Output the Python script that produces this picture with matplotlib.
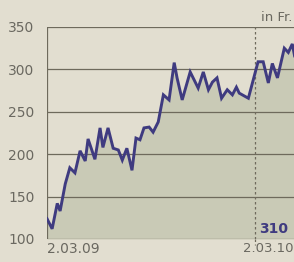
import matplotlib.pyplot as plt
import numpy as np

# Share price in Fr., weekly, from 2.03.09 (x in days since 2.03.09)
days = [0, 9, 18, 23, 32, 40, 49, 58, 67, 72, 84, 93, 98, 107, 116, 125,
        132, 140, 149, 156, 163, 170, 179, 186, 195, 204, 214, 223, 228,
        237, 251, 265, 274, 283, 290, 298, 306, 316, 325, 332, 337, 353,
        370, 379, 388, 395, 404, 416, 423, 430, 434]
prices = [124, 112, 142, 133, 165, 184, 178, 204, 192, 218, 194, 231, 208,
          231, 207, 205, 193, 207, 181, 219, 217, 231, 232, 226, 238, 270,
          264, 308, 290, 264, 297, 278, 297, 276, 285, 290, 266, 276, 270,
          279, 272, 266, 309, 309, 284, 307, 290, 325, 320, 330, 316]
yticks = [100, 150, 200, 250, 300, 350]
last_label = "310"

bg = "#e2ded0"
fill_c = "#c9cab6"
line_c = "#3f3b80"
grid_c = "#6e6a5c"
text_c = "#6a6860"

fig = plt.figure(figsize=(2.94, 2.62), dpi=100, facecolor=bg)
ax = fig.add_axes([47/294, 23/262, 1 - 47/294, 212/262])
ax.set_facecolor(bg)

ax.fill_between(days, prices, 100, color=fill_c, lw=0, zorder=1)
ax.plot(days, prices, color=line_c, lw=2.1, solid_joinstyle="miter", zorder=3)

for y in yticks:
    ax.axhline(y, color=grid_c, lw=0.9, zorder=2)
ax.axvline(0, color=grid_c, lw=0.9, zorder=2)
ax.plot([365, 365], [100, 350], color=grid_c, lw=0.9, ls=(0, (2, 2)), zorder=2)
ax.plot([365, 365], [100, 93], color=grid_c, lw=0.9, ls=(0, (2, 2)),
        clip_on=False, zorder=2)

ax.set_xlim(0, 433)
ax.set_ylim(100, 350)
for s in ax.spines.values():
    s.set_visible(False)
ax.set_xticks([])
ax.set_yticks(yticks)
ax.set_yticklabels([str(v) for v in yticks], fontsize=10, color=text_c)
ax.tick_params(axis="y", length=0, pad=9)

ax.text(0, 97, "2.03.09", ha="left", va="top", fontsize=10, color=text_c)
ax.text(432, 97, "2.03.10", ha="right", va="top", fontsize=9.5, color=text_c,
        clip_on=False)
ax.text(430, 353, "in Fr.", ha="right", va="bottom", fontsize=9.5, color=text_c)
ax.text(372, 112, last_label, ha="left", va="center", fontsize=10,
        fontweight="bold", color=line_c, zorder=4)

fig.savefig("out.png", dpi=100, facecolor=bg)
